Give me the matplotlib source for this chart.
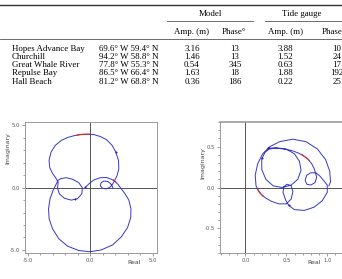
import matplotlib
matplotlib.use("Agg")
import matplotlib.pyplot as plt
from matplotlib.lines import Line2D
from matplotlib.ticker import MultipleLocator, FormatStrFormatter

# table data
stations = ["Hopes Advance Bay", "Churchill", "Great Whale River", "Repulse Bay", "Hall Beach"]
coords = ["69.6° W 59.4° N", "94.2° W 58.8° N", "77.8° W 55.3° N", "86.5° W 66.4° N", "81.2° W 68.8° N"]
model_amp = ["3.16", "1.46", "0.54", "1.63", "0.36"]
model_phase = ["13", "13", "345", "18", "186"]
gauge_amp = ["3.88", "1.52", "0.63", "1.88", "0.22"]
gauge_phase = ["10", "24", "17", "192", "25"]

# left panel: traced curve (Real, Imaginary)
left_x = [-0.38, -0.1, 0.3, 0.8, 1.3, 1.7, 1.95,
          2.25, 2.5, 2.8, 3.1, 3.27, 3.25, 3.0, 2.5, 1.8, 0.9, 0.0, -0.9, -1.8, -2.5,
          -3.0, -3.27, -3.32, -3.2, -2.95, -2.7, -2.55,
          -2.3, -1.9, -1.4, -0.9, -0.62, -0.66, -1.0, -1.5, -2.05, -2.45, -2.6, -2.55,
          -2.75, -3.0, -3.22, -3.28, -3.12, -2.78, -2.3, -1.75, -1.2, -0.7, -0.2, 0.3,
          0.8, 1.3, 1.75, 2.05, 2.27, 2.3, 2.15, 1.95,
          1.8, 1.6, 1.3, 1.0, 0.82, 0.88, 1.1, 1.4, 1.62, 1.75, 1.85]
left_y = [0.02, 0.3, 0.62, 0.8, 0.82, 0.68, 0.55,
          0.25, -0.1, -0.5, -1.0, -1.7, -2.4, -3.2, -3.95, -4.6, -5.0, -5.15, -5.05, -4.7, -4.1,
          -3.3, -2.5, -1.7, -0.9, -0.2, 0.3, 0.6,
          0.74, 0.8, 0.68, 0.4, 0.0, -0.5, -0.88, -1.0, -0.85, -0.5, -0.05, 0.45,
          0.8, 1.15, 1.6, 2.2, 2.85, 3.4, 3.8, 4.05, 4.2, 4.28, 4.3, 4.27,
          4.12, 3.87, 3.42, 2.88, 2.2, 1.5, 0.95, 0.55,
          0.28, 0.05, -0.1, -0.05, 0.15, 0.4, 0.53, 0.5, 0.35, 0.15, -0.05]
left_red_x = [-1.1, -0.7, -0.2, 0.02]
left_red_y = [4.2, 4.28, 4.3, 4.3]
left_red2_x = [1.85, 2.05]
left_red2_y = [0.63, 0.48]
left_dot_x = [2.05, -0.38, -1.2]
left_dot_y = [2.88, 0.02, -0.9]

# right panel: traced curve
right_x = [0.28, 0.38, 0.5, 0.6, 0.66, 0.68, 0.64, 0.56, 0.45, 0.34, 0.25, 0.2, 0.2, 0.24, 0.29,
           0.37, 0.47, 0.57, 0.65, 0.72, 0.77, 0.81, 0.84, 0.86,
           0.87, 0.85, 0.8, 0.75, 0.73, 0.75, 0.8, 0.86, 0.91, 0.96, 1.0,
           1.0, 0.94, 0.84, 0.72, 0.6, 0.53,
           0.49, 0.46, 0.47, 0.51, 0.56, 0.58, 0.56, 0.5, 0.41, 0.32, 0.25, 0.2, 0.16, 0.13,
           0.12, 0.15, 0.21, 0.3, 0.42, 0.58, 0.74, 0.88, 0.98, 1.03, 1.04, 1.02]
right_y = [0.48, 0.485, 0.47, 0.41, 0.32, 0.21, 0.1, 0.03, 0.0, 0.02, 0.1, 0.22, 0.35, 0.43, 0.47,
           0.48, 0.47, 0.45, 0.42, 0.38, 0.34, 0.29, 0.23, 0.17,
           0.12, 0.06, 0.03, 0.04, 0.09, 0.15, 0.18, 0.18, 0.14, 0.08, 0.03,
           -0.06, -0.16, -0.24, -0.28, -0.27, -0.22,
           -0.15, -0.06, 0.01, 0.04, 0.02, -0.05, -0.14, -0.2, -0.2, -0.17, -0.13, -0.09, -0.04, 0.02,
           0.15, 0.29, 0.41, 0.5, 0.56, 0.59, 0.56, 0.47, 0.34, 0.2, 0.07, 0.02]
right_red_x = [0.69, 0.72, 0.75, 0.78]
right_red_y = [0.405, 0.38, 0.36, 0.33]
right_red2_x = [0.15, 0.17, 0.2, 0.22]
right_red2_y = [-0.02, -0.06, -0.09, -0.11]
right_dot_x = [0.28, 0.2, 0.53]
right_dot_y = [0.48, 0.36, -0.21]

BLUE = "#3535cc"
RED = "#e02a2a"
SERIF = "Liberation Serif"

fig = plt.figure(figsize=(3.42, 2.79), dpi=100)


def fy(py):
    return 1 - py / 279.0


def fx(px):
    return px / 342.0


# ---- table ----
fs = 6.4
fig.add_artist(Line2D([0, 1], [fy(5.3), fy(5.3)], color="#333333", lw=1.0))
fig.add_artist(Line2D([fx(167), fx(253)], [fy(21), fy(21)], color="#555555", lw=0.6))
fig.add_artist(Line2D([fx(265), 1], [fy(21), fy(21)], color="#555555", lw=0.6))
fig.add_artist(Line2D([0, 1], [fy(39.5), fy(39.5)], color="#555555", lw=0.6))

fig.text(fx(210), fy(14), "Model", ha="center", va="center", fontsize=fs, family=SERIF)
fig.text(fx(302), fy(14), "Tide gauge", ha="center", va="center", fontsize=fs, family=SERIF)
for cx, lab in [(191, "Amp. (m)"), (234, "Phase°"), (285, "Amp. (m)"), (334, "Phase°")]:
    fig.text(fx(cx), fy(32), lab, ha="center", va="center", fontsize=fs, family=SERIF)

row_y = [49, 57.2, 65.3, 73.4, 81.5]
for i, ry in enumerate(row_y):
    fig.text(fx(12), fy(ry), stations[i], ha="left", va="center", fontsize=fs, family=SERIF)
    fig.text(fx(99), fy(ry), coords[i], ha="left", va="center", fontsize=fs, family=SERIF)
    fig.text(fx(192), fy(ry), model_amp[i], ha="center", va="center", fontsize=fs, family=SERIF)
    fig.text(fx(235), fy(ry), model_phase[i], ha="center", va="center", fontsize=fs, family=SERIF)
    fig.text(fx(285), fy(ry), gauge_amp[i], ha="center", va="center", fontsize=fs, family=SERIF)
    fig.text(fx(337), fy(ry), gauge_phase[i], ha="center", va="center", fontsize=fs, family=SERIF)


# ---- plots ----
def style_axes(ax, major, minor, label_x, label_y):
    for s in ax.spines.values():
        s.set_color("#9a9a9a")
        s.set_linewidth(0.7)
    ax.axhline(0, color="#555555", lw=0.7, zorder=1)
    ax.axvline(0, color="#555555", lw=0.7, zorder=1)
    ax.xaxis.set_major_locator(MultipleLocator(major))
    ax.yaxis.set_major_locator(MultipleLocator(major))
    ax.xaxis.set_minor_locator(MultipleLocator(minor))
    ax.yaxis.set_minor_locator(MultipleLocator(minor))
    ax.xaxis.set_major_formatter(FormatStrFormatter("%.1f"))
    ax.yaxis.set_major_formatter(FormatStrFormatter("%.1f"))
    ax.tick_params(which="both", direction="out", color="#777777", width=0.5,
                   labelsize=3.8, labelcolor="#555555", pad=1.5)
    ax.tick_params(which="major", length=2.2)
    ax.tick_params(which="minor", length=1.6)
    ax.set_xlabel("Real", fontsize=4.5, color="#444444", labelpad=1)
    ax.xaxis.set_label_coords(label_x, -0.055)
    ax.set_ylabel("Imaginary", fontsize=4.5, color="#444444", labelpad=2)
    ax.yaxis.set_label_coords(-0.11, label_y)


axl = fig.add_axes([25 / 342, 1 - 253 / 279, 132 / 342, 131 / 279])
axl.plot(left_x, left_y, color=BLUE, lw=0.7, zorder=3)
axl.plot(left_red_x, left_red_y, color=RED, lw=0.8, zorder=4)
axl.plot(left_red2_x, left_red2_y, color=RED, lw=0.8, zorder=4)
axl.scatter(left_dot_x, left_dot_y, s=2, color="#1a1aa0", zorder=5, linewidths=0)
axl.set_xlim(-5.2, 5.35)
axl.set_ylim(-5.25, 5.28)
style_axes(axl, 5.0, 1.0, 0.83, 0.8)

axr = fig.add_axes([220 / 342, 1 - 253 / 279, 131 / 342, 131 / 279])
axr.plot(right_x, right_y, color=BLUE, lw=0.7, zorder=3)
axr.plot(right_red_x, right_red_y, color=RED, lw=0.8, zorder=4)
axr.plot(right_red2_x, right_red2_y, color=RED, lw=0.8, zorder=4)
axr.scatter(right_dot_x, right_dot_y, s=2, color="#1a1aa0", zorder=5, linewidths=0)
axr.set_xlim(-0.31, 1.29)
axr.set_ylim(-0.8, 0.8)
style_axes(axr, 0.5, 0.1, 0.72, 0.69)
axr.spines["top"].set_linewidth(1.2)

fig.savefig("out.png", dpi=100)
